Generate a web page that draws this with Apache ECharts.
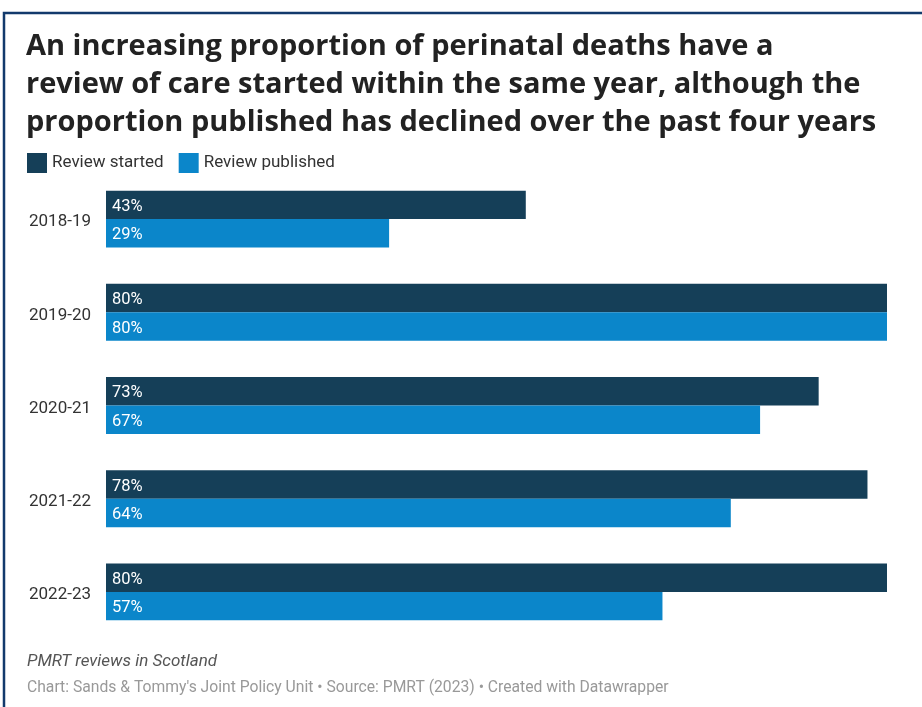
<!DOCTYPE html>
<html><head><meta charset="utf-8">
<script src="https://cdn.jsdelivr.net/npm/echarts@6/dist/echarts.min.js"></script>
<style>html,body{margin:0;padding:0;background:#fff;}#c{width:922px;height:707px;}</style>
</head><body><div id="c"></div>
<script>
const categories = ['2018-19','2019-20','2020-21','2021-22','2022-23'];
const reviewStarted = [43, 80, 73, 78, 80];
const reviewPublished = [29, 80, 67, 64, 57];
const seriesNames = ['Review started','Review published'];

const chart = echarts.init(document.getElementById('c'), null, {renderer:'canvas'});
const labelCfg = {show:true, position:'insideLeft', distance:6, offset:[0,2], color:'#fff', fontFamily:'Roboto', fontSize:16.5, formatter: p => p.value + '%'};
chart.setOption({
  animation:false,
  title:{
    text:'An increasing proportion of perinatal deaths have a\nreview of care started within the same year, although the\nproportion published has declined over the past four years',
    left:26, top:28, padding:0,
    textStyle:{fontFamily:'Open Sans', fontWeight:'bold', fontSize:29, lineHeight:38, color:'#222'}
  },
  legend:{
    left:27, top:153, padding:0, itemWidth:20, itemHeight:20, itemGap:15, icon:'rect',
    textStyle:{fontFamily:'Roboto', fontSize:17, color:'#333'},
    data:seriesNames
  },
  grid:{left:106, right:35, top:172.5, bottom:68.5, containLabel:false},
  xAxis:{type:'value', min:0, max:80, show:false},
  yAxis:{type:'category', data:categories, inverse:true,
    axisLine:{show:false}, axisTick:{show:false},
    axisLabel:{fontFamily:'Roboto', fontSize:17, color:'#333', margin:15, verticalAlign:'top', lineHeight:6}},
  series:[
    {name:seriesNames[0], type:'bar', data:reviewStarted, barGap:'0%', barCategoryGap:'39%', itemStyle:{color:'#153f58'}, label:labelCfg},
    {name:seriesNames[1], type:'bar', data:reviewPublished, itemStyle:{color:'#0b86ca'}, label:labelCfg}
  ],
  graphic:[
    {type:'polyline', shape:{points:[[4,707],[4,13],[922,13]]}, style:{stroke:'#123a6c', lineWidth:2.5, fill:null}},
    {type:'text', left:27, top:653, style:{text:'PMRT reviews in Scotland', fontFamily:'Roboto', fontStyle:'italic', fontSize:17, fill:'#555'}},
    {type:'text', left:27, top:680, style:{text:"Chart: Sands & Tommy's Joint Policy Unit • Source: PMRT (2023) • Created with Datawrapper", fontFamily:'Roboto', fontSize:15.7, fill:'#999'}}
  ]
});
</script></body></html>
